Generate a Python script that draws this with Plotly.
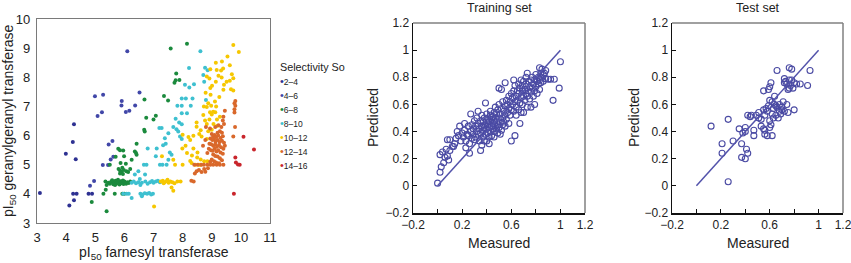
import plotly.graph_objects as go

# ---------------- Left panel: pI50 FT vs pI50 GGT, coloured by selectivity ----------------
sel_names = ["2–4", "4–6", "6–8", "8–10", "10–12", "12–14", "14–16"]
sel_colors = ["#2e3192", "#4147a8", "#1b8a3d", "#3ec0d0", "#f6c700", "#d9682b", "#c9252c"]

g2_4_x = [3.10, 4.11, 4.27, 4.24, 4.36, 3.99, 4.33, 4.23, 4.27, 4.77, 4.89]
g2_4_y = [4.03, 3.60, 3.78, 4.00, 4.00, 5.38, 5.19, 5.78, 6.39, 4.00, 4.00]

g4_6_x = [4.82, 4.96, 5.26, 5.44, 5.53, 5.46, 5.59, 5.62, 4.99, 5.27, 5.08, 5.23, 5.91, 5.90, 6.05, 6.17, 6.37, 6.52, 6.10]
g4_6_y = [4.28, 4.44, 4.99, 4.99, 5.18, 5.69, 5.81, 5.27, 7.35, 7.40, 6.67, 6.80, 7.19, 7.03, 6.81, 6.85, 7.03, 7.48, 8.89]

g6_8_x = [7.59, 8.15, 7.78, 7.76, 7.89, 7.72, 7.36, 7.50, 6.69, 6.75, 7.08, 7.00, 6.68, 6.70,
          5.79, 5.85, 5.96, 6.42, 6.36, 6.40, 6.42, 5.99, 5.70, 5.50, 5.87, 6.05, 6.25,
          5.80, 5.85, 5.90, 5.93, 5.98, 6.07, 6.13, 5.85, 5.95, 6.20,
          5.35, 5.45, 5.50, 5.55, 5.60, 5.62, 5.65, 5.70, 5.72, 5.75, 5.80, 5.83, 5.87, 5.90,
          5.93, 5.97, 6.00, 6.03, 6.06, 6.10, 6.15, 6.20, 5.58, 5.68, 5.78, 5.95,
          5.39, 5.36, 5.28, 5.67, 5.93, 6.00, 4.88, 5.39]
g6_8_y = [8.99, 9.15, 8.13, 7.90, 7.91, 7.81, 7.36, 7.20, 7.24, 6.61, 6.68, 6.55, 6.20, 6.14,
          5.55, 5.50, 5.49, 5.72, 5.45, 5.40, 5.34, 5.29, 5.27, 5.00, 5.06, 5.03, 5.17,
          4.85, 4.80, 4.75, 4.90, 4.82, 4.78, 4.75, 4.70, 4.68, 4.85,
          4.42, 4.38, 4.35, 4.42, 4.40, 4.33, 4.38, 4.45, 4.35, 4.40, 4.38, 4.32, 4.43, 4.36,
          4.40, 4.34, 4.42, 4.38, 4.35, 4.40, 4.37, 4.42, 4.47, 4.30, 4.48, 4.46,
          4.30, 4.14, 4.00, 4.00, 4.00, 4.00, 3.72, 3.40]

g8_10_x = [8.61, 8.22, 8.77, 8.86, 8.71, 8.74, 8.08, 8.23, 8.39, 7.97, 8.11, 8.34, 8.80, 7.97,
           8.28, 7.82, 7.97, 8.15, 7.76, 7.88, 7.97, 7.68, 7.20, 7.28, 7.51, 7.79, 7.85, 7.91,
           7.97, 7.39, 7.42, 7.33, 7.56, 7.62, 7.11, 6.80, 6.67, 6.76, 7.22, 7.31, 7.45, 7.51,
           7.08, 6.48, 6.36, 6.71, 6.53,
           6.25, 6.32, 6.40, 6.48, 6.60, 6.72, 6.80, 6.88, 6.95, 7.00, 7.08, 7.15, 7.22, 6.55,
           5.96, 6.08, 6.15, 6.55, 6.62, 6.70, 6.78, 6.85, 6.92, 6.98, 6.60, 6.25]
g8_10_y = [8.89, 8.32, 8.33, 8.24, 8.08, 7.85, 7.74, 7.65, 7.76, 7.27, 7.27, 7.27, 7.22, 7.02,
           7.02, 7.02, 6.77, 6.77, 6.58, 6.45, 6.39, 6.29, 6.26, 6.26, 6.08, 6.22, 6.14, 5.97,
           5.88, 5.91, 5.72, 5.67, 5.42, 5.34, 5.56, 5.56, 5.00, 5.00, 5.00, 5.00, 5.00, 5.17,
           5.29, 4.78, 4.66, 4.66, 4.51,
           4.38, 4.42, 4.36, 4.40, 4.38, 4.42, 4.35, 4.40, 4.44, 4.38, 4.42, 4.45, 4.40, 4.30,
           4.00, 4.00, 4.00, 4.00, 3.98, 4.02, 4.00, 4.03, 3.98, 4.00, 3.92, 3.86]

g10_12_x = [9.74, 9.93, 9.54, 9.35, 9.14, 9.62, 9.39, 8.95, 9.17, 9.32, 9.69, 9.74, 8.83, 8.92,
            9.23, 9.34, 9.14, 9.51, 9.62, 9.42, 8.95, 9.01, 9.66, 9.74, 9.40, 8.79, 8.96, 9.26,
            8.88, 9.11, 8.73, 8.83, 8.98, 9.15, 8.94, 9.05, 9.12, 9.00, 9.28, 9.18, 8.92, 8.71,
            8.77, 8.83, 8.48, 9.06, 9.18, 9.00, 8.88, 8.48, 8.62, 8.57, 8.37, 8.65, 8.83, 8.00,
            8.20, 8.26, 8.10, 7.99, 8.37, 8.51, 8.15, 8.32, 8.50, 8.62, 8.74, 8.85, 8.44, 8.56,
            8.62, 8.00, 8.26, 8.31, 7.68, 7.74, 7.29,
            7.25, 7.32, 7.38, 7.45, 7.52, 7.58, 7.65, 7.72, 7.35, 7.48, 7.82, 7.93, 7.62, 7.68, 7.02]
g10_12_y = [9.11, 8.87, 8.71, 8.54, 8.50, 8.41, 8.30, 8.28, 8.25, 8.23, 8.10, 7.97, 8.03, 7.96,
            8.05, 7.99, 7.85, 7.85, 7.88, 7.74, 7.63, 7.71, 7.59, 7.55, 7.57, 7.47, 7.40, 7.32,
            7.11, 7.17, 7.00, 6.98, 7.02, 7.00, 6.80, 6.82, 6.80, 6.72, 6.65, 6.55, 6.55, 6.71,
            6.52, 6.40, 6.45, 6.40, 6.33, 6.20, 6.15, 6.30, 6.18, 6.05, 5.99, 5.97, 5.88, 6.03,
            5.95, 5.85, 5.65, 5.56, 5.56, 5.42, 5.40, 5.32, 5.25, 5.18, 5.12, 5.12, 5.00, 5.00,
            5.00, 5.00, 5.13, 5.06, 5.17, 5.00, 5.29,
            4.42, 4.45, 4.40, 4.43, 4.38, 4.42, 4.40, 4.36, 4.36, 4.48, 4.42, 4.42, 4.22, 4.11, 3.57]

g12_14_x = [9.81, 9.78, 9.81, 9.78, 9.78, 9.80, 9.45, 9.40, 9.38, 9.42, 9.33, 9.12, 9.23, 9.28,
            9.20, 9.35, 8.80, 8.94, 9.74,
            9.00, 9.05, 9.10, 9.15, 9.22, 9.30, 9.38, 8.95, 9.02, 9.08, 9.13, 9.20, 9.27, 9.35,
            9.42, 8.92, 8.98, 9.05, 9.12, 9.18, 9.25, 9.32, 9.40, 9.45, 8.90, 8.97, 9.03, 9.10,
            9.16, 9.22, 9.30, 9.38, 9.05, 9.12, 9.20, 9.28, 9.35, 9.00, 8.95, 9.08, 9.15, 9.25,
            8.78, 8.70, 8.85,
            8.40, 8.52, 8.64, 8.73, 8.85, 8.95, 9.05, 9.17, 9.28, 9.40,
            8.48, 8.56, 8.74, 8.87, 8.78, 8.65, 8.42, 8.30, 8.38]
g12_14_y = [7.19, 7.11, 7.02, 6.90, 6.79, 6.29, 6.85, 6.65, 6.52, 6.40, 6.29, 6.29, 6.35, 6.15,
            6.10, 6.10, 6.29, 6.24, 5.97,
            6.05, 5.98, 6.02, 5.95, 6.00, 5.92, 5.98, 5.90, 5.85, 5.88, 5.80, 5.85, 5.78, 5.82,
            5.75, 5.72, 5.70, 5.65, 5.70, 5.62, 5.68, 5.60, 5.55, 5.65, 5.55, 5.50, 5.48, 5.55,
            5.45, 5.50, 5.42, 5.38, 5.35, 5.30, 5.28, 5.22, 5.15, 5.18, 5.10, 5.12, 5.08, 5.05,
            5.85, 5.65, 5.40,
            5.00, 5.00, 5.00, 5.00, 5.00, 5.00, 5.00, 5.00, 5.00, 5.00,
            4.78, 4.82, 4.85, 4.88, 4.76, 4.75, 4.70, 4.45, 4.42]

g14_16_x = [10.09, 10.45, 9.81, 9.83, 9.90, 9.96, 9.76]
g14_16_y = [5.96, 5.52, 5.25, 5.08, 5.01, 5.00, 4.00]

sel_x = [g2_4_x, g4_6_x, g6_8_x, g8_10_x, g10_12_x, g12_14_x, g14_16_x]
sel_y = [g2_4_y, g4_6_y, g6_8_y, g8_10_y, g10_12_y, g12_14_y, g14_16_y]

# ---------------- Middle panel: training set ----------------
train_measured = [
    0.00, 0.02, 0.03, 0.05, 0.06, 0.04, 0.08, 0.09, 0.02, 0.07, 0.10, 0.12, 0.13, 0.08, 0.10, 0.14, 0.15,
    0.18, 0.17, 0.19, 0.20, 0.21, 0.22, 0.23, 0.24, 0.25, 0.26, 0.26, 0.27, 0.27, 0.28, 0.28, 0.29, 0.29,
    0.30, 0.30, 0.16, 0.22, 0.25, 0.23,
    0.31, 0.31, 0.32, 0.32, 0.33, 0.33, 0.34, 0.34, 0.35, 0.35, 0.35, 0.36, 0.36, 0.37, 0.37, 0.37, 0.38,
    0.38, 0.39, 0.39, 0.39, 0.40, 0.40, 0.40, 0.40, 0.41, 0.41, 0.41, 0.42, 0.42, 0.42, 0.43, 0.43, 0.43,
    0.44, 0.44, 0.44, 0.45, 0.45, 0.45, 0.33, 0.36, 0.38, 0.42,
    0.46, 0.46, 0.46, 0.47, 0.47, 0.47, 0.48, 0.48, 0.48, 0.49, 0.49, 0.49, 0.50, 0.50, 0.50, 0.50, 0.51,
    0.51, 0.52, 0.52, 0.52, 0.53, 0.53, 0.53, 0.54, 0.54, 0.55, 0.55, 0.55, 0.55, 0.56, 0.56, 0.57, 0.57,
    0.58, 0.58, 0.58, 0.59, 0.59, 0.60, 0.60, 0.60, 0.46, 0.51,
    0.61, 0.61, 0.62, 0.62, 0.63, 0.63, 0.63, 0.64, 0.64, 0.65, 0.65, 0.66, 0.66, 0.66, 0.67, 0.67, 0.67,
    0.68, 0.68, 0.69, 0.69, 0.69, 0.70, 0.70, 0.70, 0.71, 0.71, 0.72, 0.72, 0.72, 0.73, 0.73, 0.73, 0.74,
    0.74, 0.75, 0.75, 0.62, 0.64, 0.68,
    0.76, 0.76, 0.77, 0.77, 0.78, 0.78, 0.79, 0.79, 0.80, 0.80, 0.81, 0.81, 0.82, 0.82, 0.83, 0.83, 0.84,
    0.85, 0.86, 0.88, 0.90, 0.92, 0.95, 0.94, 0.99, 1.00, 0.76, 0.79, 0.87, 0.84, 0.86, 0.85, 0.88, 0.83,
]
train_predicted = [
    0.02, 0.10, 0.14, 0.17, 0.21, 0.25, 0.22, 0.19, 0.23, 0.27, 0.26, 0.29, 0.29, 0.34, 0.34, 0.31, 0.35,
    0.44, 0.37, 0.33, 0.39, 0.36, 0.41, 0.33, 0.38, 0.44, 0.31, 0.24, 0.40, 0.53, 0.35, 0.45, 0.38, 0.42,
    0.34, 0.48, 0.40, 0.46, 0.37, 0.28,
    0.36, 0.44, 0.40, 0.50, 0.38, 0.46, 0.33, 0.42, 0.26, 0.48, 0.39, 0.44, 0.52, 0.36, 0.41, 0.47, 0.43,
    0.50, 0.38, 0.45, 0.61, 0.33, 0.42, 0.48, 0.53, 0.39, 0.45, 0.50, 0.36, 0.43, 0.47, 0.40, 0.52, 0.55,
    0.44, 0.49, 0.37, 0.42, 0.46, 0.51, 0.55, 0.30, 0.33, 0.31,
    0.40, 0.48, 0.54, 0.44, 0.50, 0.58, 0.42, 0.47, 0.53, 0.39, 0.45, 0.56, 0.43, 0.50, 0.60, 0.72, 0.47,
    0.53, 0.41, 0.57, 0.71, 0.45, 0.50, 0.62, 0.47, 0.55, 0.44, 0.52, 0.59, 0.76, 0.49, 0.63, 0.54, 0.60,
    0.46, 0.57, 0.66, 0.52, 0.62, 0.33, 0.56, 0.68, 0.36, 0.38,
    0.60, 0.65, 0.55, 0.70, 0.37, 0.62, 0.74, 0.58, 0.66, 0.63, 0.70, 0.56, 0.68, 0.75, 0.46, 0.61, 0.72,
    0.65, 0.78, 0.60, 0.70, 0.74, 0.54, 0.66, 0.77, 0.63, 0.71, 0.68, 0.75, 0.80, 0.58, 0.66, 0.83, 0.70,
    0.77, 0.64, 0.73, 0.78, 0.52, 0.54,
    0.69, 0.78, 0.72, 0.80, 0.66, 0.75, 0.70, 0.78, 0.73, 0.82, 0.68, 0.77, 0.75, 0.80, 0.71, 0.78, 0.76,
    0.80, 0.77, 0.79, 0.785, 0.785, 0.785, 0.63, 0.72, 0.915, 0.58, 0.60, 0.83, 0.83, 0.82, 0.86, 0.85, 0.87,
]

# ---------------- Right panel: test set ----------------
test_measured = [
    0.12, 0.26, 0.26, 0.21, 0.21, 0.30, 0.35, 0.37, 0.38, 0.40, 0.40, 0.41, 0.42, 0.37, 0.40, 0.44, 0.45,
    0.47, 0.47, 0.51, 0.53, 0.55, 0.53, 0.55, 0.56, 0.58, 0.56, 0.57, 0.59, 0.59, 0.60, 0.61, 0.60, 0.61,
    0.60, 0.62, 0.62, 0.63, 0.65, 0.66, 0.63, 0.65, 0.67, 0.66, 0.69, 0.70, 0.72, 0.73, 0.72, 0.74, 0.75,
    0.76, 0.76, 0.78, 0.75, 0.80, 0.78, 0.80, 0.82, 0.85, 0.91, 0.93, 0.55, 0.58, 0.62, 0.64, 0.68, 0.70,
    0.72, 0.71, 0.74, 0.77, 0.76, 0.79, 0.51, 0.49, 0.42, 0.56, 0.60, 0.68, 0.64,
]
test_predicted = [
    0.44, 0.49, 0.03, 0.31, 0.24, 0.33, 0.42, 0.31, 0.39, 0.43, 0.40, 0.27, 0.24, 0.21, 0.20, 0.51, 0.52,
    0.41, 0.37, 0.54, 0.49, 0.42, 0.44, 0.70, 0.38, 0.37, 0.41, 0.57, 0.59, 0.71, 0.73, 0.76, 0.43, 0.45,
    0.48, 0.37, 0.53, 0.57, 0.59, 0.58, 0.50, 0.52, 0.50, 0.85, 0.53, 0.56, 0.79, 0.77, 0.76, 0.75, 0.71,
    0.72, 0.87, 0.86, 0.54, 0.56, 0.78, 0.76, 0.75, 0.75, 0.74, 0.85, 0.56, 0.55, 0.62, 0.60, 0.55, 0.58,
    0.55, 0.62, 0.60, 0.74, 0.78, 0.72, 0.50, 0.52, 0.52, 0.52, 0.63, 0.60, 0.66,
]

ideal_x = [0, 1]
ideal_y = [0, 1]

pm_x_tickvals = [-0.2, 0.2, 0.6, 1, 1.2]
pm_x_ticktext = ["−0.2", "0.2", "0.6", "1", "1.2"]
pm_x_minor = [0, 0.4, 0.8]
pm_y_tickvals = [-0.2, 0, 0.2, 0.4, 0.6, 0.8, 1, 1.2]
pm_y_ticktext = ["−0.2", "0", "0.2", "0.4", "0.6", "0.8", "1", "1.2"]

FONT = "Liberation Sans, Arial, Helvetica, sans-serif"
W, H = 851, 263
circ_col = "#4a4aa3"

fig = go.Figure()

for name, col, xs, ys in zip(sel_names, sel_colors, sel_x, sel_y):
    fig.add_trace(go.Scatter(x=xs, y=ys, mode="markers", name=name,
                             marker=dict(size=4, color=col, line=dict(width=0)),
                             xaxis="x", yaxis="y", showlegend=False))

fig.add_trace(go.Scatter(x=train_measured, y=train_predicted, mode="markers", name="Training set",
                         marker=dict(symbol="circle-open", size=6, color=circ_col, line=dict(width=1.1)),
                         xaxis="x2", yaxis="y2", showlegend=False))
fig.add_trace(go.Scatter(x=ideal_x, y=ideal_y, mode="lines", line=dict(color="#5353ab", width=1.5),
                         xaxis="x2", yaxis="y2", showlegend=False))

fig.add_trace(go.Scatter(x=test_measured, y=test_predicted, mode="markers", name="Test set",
                         marker=dict(symbol="circle-open", size=6, color=circ_col, line=dict(width=1.1)),
                         xaxis="x3", yaxis="y3", showlegend=False))
fig.add_trace(go.Scatter(x=ideal_x, y=ideal_y, mode="lines", line=dict(color="#5353ab", width=1.5),
                         xaxis="x3", yaxis="y3", showlegend=False))


def px_x(p):
    return p / W


def px_y(p):
    return 1 - p / H


left_ax = dict(showgrid=False, zeroline=False, showline=True, mirror=True, linecolor="#7a7a7a",
               linewidth=1.2, ticks="", tickfont=dict(size=13, color="#222"), automargin=False)

pm_xax = dict(showgrid=False, zeroline=False, showline=True, mirror=False, linecolor="#111",
              linewidth=1.5, ticks="inside", ticklen=4, tickwidth=1, tickcolor="#111",
              tickfont=dict(size=12, color="#222"), range=[-0.2, 1.2], automargin=False,
              tickmode="array", tickvals=pm_x_tickvals, ticktext=pm_x_ticktext,
              ticklabeloverflow="allow",
              minor=dict(tickmode="array", tickvals=pm_x_minor, ticks="inside", ticklen=4,
                         tickwidth=1, tickcolor="#111", showgrid=False))
pm_yax = dict(showgrid=False, zeroline=False, showline=True, mirror=False, linecolor="#111",
              linewidth=1.5, ticks="inside", ticklen=4, tickwidth=1, tickcolor="#111",
              tickfont=dict(size=12, color="#222"), range=[-0.2, 1.2], automargin=False,
              tickmode="array", tickvals=pm_y_tickvals, ticktext=pm_y_ticktext)

fig.update_layout(
    width=W, height=H, margin=dict(l=0, r=0, t=0, b=0, pad=0, autoexpand=False),
    paper_bgcolor="white", plot_bgcolor="white",
    font=dict(family=FONT, color="#222"),
    showlegend=False, hovermode=False,
    xaxis=dict(left_ax, domain=[px_x(37), px_x(270)], range=[3, 11], dtick=1, anchor="y", ticklabelstandoff=2),
    yaxis=dict(left_ax, domain=[px_y(223), px_y(19)], range=[3, 10], dtick=1, anchor="x", ticklabelstandoff=3),
    xaxis2=dict(pm_xax, domain=[px_x(413), px_x(585)], anchor="y2"),
    yaxis2=dict(pm_yax, domain=[px_y(213), px_y(23)], anchor="x2"),
    xaxis3=dict(pm_xax, domain=[px_x(672), px_x(843)], anchor="y3"),
    yaxis3=dict(pm_yax, domain=[px_y(213), px_y(23)], anchor="x3"),
)

# lighter top/right frame lines for the two right panels
for xa, ya in [("x2", "y2"), ("x3", "y3")]:
    fig.add_shape(type="line", xref=f"{xa} domain", yref=f"{ya} domain", x0=0, x1=1, y0=1, y1=1,
                  line=dict(color="#808080", width=1.5))
    fig.add_shape(type="line", xref=f"{xa} domain", yref=f"{ya} domain", x0=1, x1=1, y0=0, y1=1,
                  line=dict(color="#808080", width=1.5))


def ann(text, x, y, size, angle=0, xanchor="center", yanchor="middle", align="center"):
    fig.add_annotation(text=text, x=px_x(x), y=px_y(y), xref="paper", yref="paper",
                       showarrow=False, textangle=angle, xanchor=xanchor, yanchor=yanchor,
                       align=align, font=dict(size=size, family=FONT, color="#222"))


ann("pI<sub>50</sub> geranylgeranyl transferase", 9, 121, 14, angle=-90)
ann("pI<sub>50</sub> farnesyl transferase", 153.5, 253, 14)
ann("Training set", 499, 8, 12.5)
ann("Test set", 757.5, 8, 12.5)
ann("Measured", 499, 243, 14)
ann("Measured", 757.5, 243, 14)
ann("Predicted", 373, 118, 14, angle=-90)
ann("Predicted", 634, 118, 14, angle=-90)

legend_lines = ["Selectivity So"] + [
    f"<span style='color:{c}'>•</span><span style='font-size:8.5px'>{n}</span>"
    for n, c in zip(sel_names, sel_colors)
]
ann("<br>".join(legend_lines), 278, 59, 10.8, xanchor="left", yanchor="top", align="left")

# remove the browser's default 8 px page margin so the figure sits at the window's top-left corner
fig.write_html("out.html", config={"displayModeBar": False, "staticPlot": True},
               post_script="document.body.style.margin='0';document.body.style.overflow='hidden';")
